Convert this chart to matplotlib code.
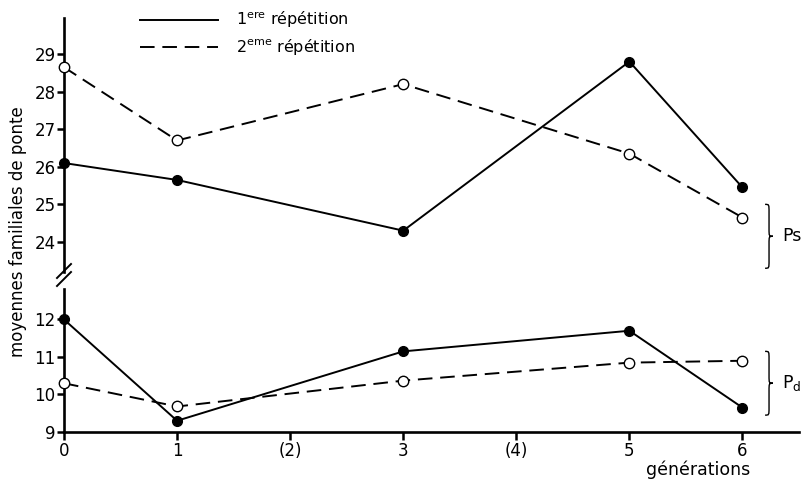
import numpy as np
import matplotlib
matplotlib.use("Agg")
import matplotlib.pyplot as plt
from matplotlib.lines import Line2D
from matplotlib.path import Path
from matplotlib.patches import PathPatch

# data
gens = [0, 1, 3, 5, 6]
ps_rep1 = [26.1, 25.65, 24.3, 28.8, 25.45]
ps_rep2 = [28.65, 26.7, 28.2, 26.35, 24.65]
pd_rep1 = [12.0, 9.3, 11.15, 11.7, 9.65]
pd_rep2 = [10.3, 9.68, 10.37, 10.85, 10.9]
xtick_pos = [0, 1, 2, 3, 4, 5, 6]
xtick_labels = ['0', '1', '(2)', '3', '(4)', '5', '6']
ps_ticks = [24, 25, 26, 27, 28, 29]
pd_ticks = [9, 10, 11, 12]

plt.rcParams['font.family'] = ['DejaVu Sans']

W, H = 803, 484
fig = plt.figure(figsize=(W / 100, H / 100), dpi=100)

left = 64 / W
width = (799 - 64) / W
ax_lo = fig.add_axes([left, (H - 432) / H, width, (432 - 289.5) / H])
ax_hi = fig.add_axes([left, (H - 272) / H, width, (272 - 18) / H])

spine_lw = 1.9
for ax in (ax_lo, ax_hi):
    ax.set_xlim(0, 6.5)
    ax.spines['top'].set_visible(False)
    ax.spines['right'].set_visible(False)
    ax.spines['left'].set_linewidth(spine_lw)
    ax.spines['bottom'].set_linewidth(spine_lw)
    ax.tick_params(axis='y', length=5, width=1.8, labelsize=12, pad=1)
    ax.patch.set_alpha(0)

ax_hi.spines['bottom'].set_visible(False)
ax_hi.set_xticks([])
ax_hi.set_ylim(23.2, 29.96)
ax_hi.set_yticks(ps_ticks)
ax_hi.set_yticklabels([str(t) for t in ps_ticks])

ax_lo.set_ylim(9, 12.8)
ax_lo.set_yticks(pd_ticks)
ax_lo.set_yticklabels([str(t) for t in pd_ticks])
ax_lo.set_xticks(xtick_pos)
ax_lo.set_xticklabels(xtick_labels)
ax_lo.tick_params(axis='x', length=6, width=1.8, labelsize=12, pad=1.5)


def draw_pair(ax, y1, y2):
    ax.plot(gens, y1, color='black', lw=1.4, marker='o', ms=7,
            mfc='black', mec='black', clip_on=False, zorder=5)
    ax.plot(gens, y2, color='black', lw=1.4, dashes=(7.5, 4), marker='o', ms=7.5,
            mfc='white', mec='black', mew=1.0, clip_on=False, zorder=4)


draw_pair(ax_hi, ps_rep1, ps_rep2)
draw_pair(ax_lo, pd_rep1, pd_rep2)


def brace(ax, x0, y_top, y_bot, w, label):
    ym = (y_top + y_bot) / 2
    q = (y_top - y_bot) * 0.12
    xm = x0 + w / 2
    verts = [(x0, y_top), (xm, y_top), (xm, y_top), (xm, y_top - q),
             (xm, ym + q),
             (xm, ym), (xm, ym), (x0 + w, ym),
             (xm, ym), (xm, ym), (xm, ym - q),
             (xm, y_bot + q),
             (xm, y_bot), (xm, y_bot), (x0, y_bot)]
    codes = [Path.MOVETO, Path.CURVE4, Path.CURVE4, Path.CURVE4,
             Path.LINETO,
             Path.CURVE4, Path.CURVE4, Path.CURVE4,
             Path.CURVE4, Path.CURVE4, Path.CURVE4,
             Path.LINETO,
             Path.CURVE4, Path.CURVE4, Path.CURVE4]
    ax.add_patch(PathPatch(Path(verts, codes), fill=False, lw=1.0,
                           color='black', clip_on=False))
    ax.text(x0 + w + 0.08, ym, label, fontsize=12.5, va='center', ha='left')


brace(ax_hi, 6.2, 25.0, 23.3, 0.07, 'Ps')
brace(ax_lo, 6.2, 11.15, 9.45, 0.07, r'P$_{\mathregular{d}}$')

# axis break marks
for dy in (0, 8):
    fig.add_artist(Line2D([57 / W, 71 / W],
                          [1 - (286 + dy - 8) / H, 1 - (272 + dy - 8) / H],
                          transform=fig.transFigure, color='black', lw=1.4))

fig.text(18 / W, 1 - 232 / H, 'moyennes familiales de ponte', rotation=90,
         ha='center', va='center', fontsize=12)
fig.text(750 / W, 1 - 470 / H, 'générations', ha='right', va='center',
         fontsize=12.5)

handles = [Line2D([], [], color='black', lw=1.4),
           Line2D([], [], color='black', lw=1.4, dashes=(7.5, 4))]
labels = [r'1$^{\mathregular{ere}}$ répétition',
          r'2$^{\mathregular{eme}}$ répétition']
fig.legend(handles, labels, loc='upper left', bbox_to_anchor=(140 / W, 1 - 10 / H),
           frameon=False, fontsize=11.5, handlelength=4.9, handletextpad=1.1,
           borderpad=0, borderaxespad=0, labelspacing=0.45)

fig.savefig('out.png', dpi=100)
